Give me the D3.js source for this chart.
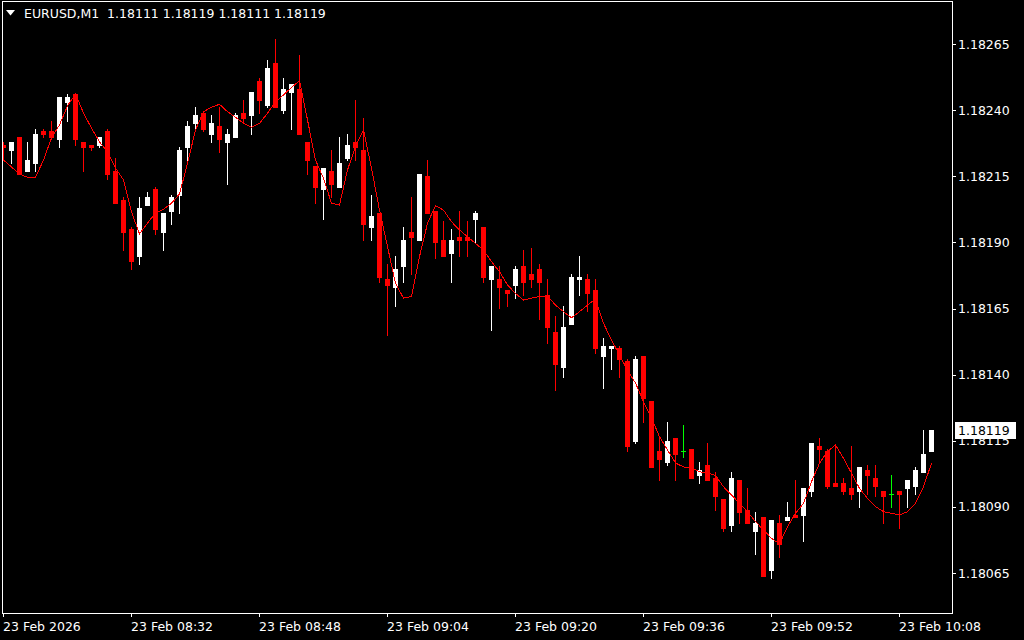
<!DOCTYPE html>
<html>
<head>
<meta charset="utf-8">
<script src="https://cdn.jsdelivr.net/npm/d3@7"></script>
<style>
  body { margin: 0; background: #000; overflow: hidden; }
  svg { display: block; }
  text { font-family: "DejaVu Sans", sans-serif; font-size: 12.5px; fill: #fff; }
</style>
</head>
<body>
<script>
// EURUSD M1, one bar per minute from 08:16 to 10:12
var opens = [1.18227,1.18225,1.18230,1.18217,1.18220,1.18232,1.18232,1.18229,1.18243,1.18246,
  1.18228,1.18227,1.18227,1.18232,1.18217,1.18206,1.18195,1.18185,1.18204,1.18210,
  1.18194,1.18202,1.18208,1.18226,1.18235,1.18239,1.18231,1.18234,1.18228,1.18230,
  1.18239,1.18238,1.18251,1.18242,1.18258,1.18240,1.18247,1.18248,1.18228,1.18219,
  1.18210,1.18217,1.18211,1.18222,1.18228,1.18225,1.18196,1.18201,1.18176,1.18173,
  1.18181,1.18194,1.18191,1.18215,1.18202,1.18191,1.18186,1.18192,1.18192,1.18199,
  1.18196,1.18176,1.18176,1.18172,1.18174,1.18181,1.18178,1.18180,1.18170,1.18156,
  1.18143,1.18159,1.18176,1.18176,1.18172,1.18147,1.18150,1.18150,1.18145,1.18115,
  1.18147,1.18130,1.18111,1.18107,1.18116,1.18111,1.18112,1.18102,1.18106,1.18101,
  1.18093,1.18083,1.18100,1.18089,1.18081,1.18086,1.18066,1.18084,1.18085,1.18087,
  1.18087,1.18096,1.18113,1.18111,1.18099,1.18099,1.18097,1.18096,1.18104,1.18101,
  1.18096,1.18095,1.18096,1.18097,1.18098,1.18103,1.18111];

var highs = [1.18228,1.18228,1.18230,1.18228,1.18233,1.18233,1.18236,1.18245,1.18246,1.18246,
  1.18228,1.18227,1.18230,1.18233,1.18222,1.18207,1.18196,1.18207,1.18209,1.18211,
  1.18201,1.18208,1.18226,1.18236,1.18241,1.18239,1.18238,1.18241,1.18233,1.18239,
  1.18244,1.18247,1.18252,1.18259,1.18267,1.18252,1.18250,1.18261,1.18228,1.18219,
  1.18218,1.18225,1.18230,1.18231,1.18244,1.18237,1.18208,1.18201,1.18182,1.18185,
  1.18196,1.18207,1.18216,1.18221,1.18202,1.18198,1.18195,1.18202,1.18198,1.18202,
  1.18196,1.18181,1.18181,1.18172,1.18181,1.18187,1.18188,1.18182,1.18176,1.18162,
  1.18166,1.18178,1.18185,1.18178,1.18176,1.18154,1.18151,1.18151,1.18146,1.18147,
  1.18147,1.18130,1.18116,1.18122,1.18116,1.18121,1.18112,1.18107,1.18114,1.18103,
  1.18093,1.18103,1.18100,1.18097,1.18088,1.18086,1.18085,1.18087,1.18092,1.18100,
  1.18097,1.18114,1.18116,1.18112,1.18113,1.18101,1.18113,1.18105,1.18106,1.18106,
  1.18096,1.18102,1.18096,1.18100,1.18105,1.18119,1.18119];

var lows = [1.18221,1.18220,1.18216,1.18217,1.18217,1.18230,1.18229,1.18226,1.18236,1.18227,
  1.18217,1.18225,1.18226,1.18214,1.18205,1.18187,1.18180,1.18182,1.18204,1.18193,
  1.18187,1.18197,1.18201,1.18221,1.18233,1.18232,1.18228,1.18224,1.18212,1.18230,
  1.18235,1.18231,1.18239,1.18241,1.18241,1.18239,1.18233,1.18231,1.18216,1.18205,
  1.18199,1.18207,1.18211,1.18221,1.18221,1.18191,1.18191,1.18175,1.18155,1.18166,
  1.18175,1.18178,1.18191,1.18201,1.18184,1.18185,1.18175,1.18185,1.18185,1.18190,
  1.18175,1.18157,1.18165,1.18166,1.18169,1.18170,1.18173,1.18161,1.18152,1.18134,
  1.18139,1.18159,1.18170,1.18164,1.18148,1.18135,1.18142,1.18139,1.18111,1.18114,
  1.18122,1.18105,1.18100,1.18106,1.18100,1.18109,1.18101,1.18099,1.18100,1.18089,
  1.18081,1.18081,1.18084,1.18084,1.18072,1.18064,1.18063,1.18071,1.18085,1.18086,
  1.18077,1.18094,1.18107,1.18097,1.18098,1.18095,1.18093,1.18090,1.18095,1.18094,
  1.18084,1.18090,1.18082,1.18090,1.18095,1.18103,1.18111];

var closes = [1.18226,1.18228,1.18216,1.18221,1.18231,1.18231,1.18230,1.18245,1.18245,1.18229,
  1.18226,1.18226,1.18230,1.18216,1.18205,1.18194,1.18183,1.18203,1.18207,1.18195,
  1.18201,1.18207,1.18225,1.18234,1.18238,1.18233,1.18235,1.18229,1.18231,1.18238,
  1.18237,1.18247,1.18244,1.18256,1.18241,1.18248,1.18250,1.18231,1.18221,1.18211,
  1.18218,1.18212,1.18220,1.18227,1.18226,1.18197,1.18200,1.18177,1.18174,1.18180,
  1.18191,1.18192,1.18216,1.18201,1.18190,1.18185,1.18191,1.18191,1.18191,1.18201,
  1.18177,1.18181,1.18173,1.18171,1.18180,1.18175,1.18176,1.18175,1.18158,1.18144,
  1.18158,1.18177,1.18177,1.18171,1.18150,1.18151,1.18151,1.18146,1.18113,1.18146,
  1.18131,1.18105,1.18108,1.18115,1.18110,1.18111,1.18101,1.18104,1.18100,1.18094,
  1.18082,1.18101,1.18088,1.18084,1.18084,1.18064,1.18085,1.18076,1.18086,1.18086,
  1.18097,1.18114,1.18112,1.18098,1.18098,1.18096,1.18095,1.18105,1.18102,1.18098,
  1.18094,1.18095,1.18095,1.18100,1.18104,1.18110,1.18119];

// red indicator line
var maLine = [1.182211,1.182185,1.182158,1.182146,1.182146,1.182211,1.182295,1.182344,1.182416,1.182461,
  1.182389,1.182332,1.182280,1.182242,1.182181,1.182136,1.182015,1.181932,1.181973,1.182011,
  1.182025,1.182048,1.182083,1.182199,1.182325,1.182394,1.182411,1.182422,1.182394,1.182373,
  1.182350,1.182335,1.182350,1.182388,1.182432,1.182457,1.182486,1.182511,1.182363,1.182211,
  1.182142,1.182048,1.182041,1.182174,1.182262,1.182325,1.182180,1.182022,1.181884,1.181745,
  1.181689,1.181695,1.181846,1.181972,1.182039,1.182022,1.181978,1.181947,1.181921,1.181896,
  1.181871,1.181827,1.181789,1.181739,1.181707,1.181682,1.181689,1.181695,1.181697,1.181663,
  1.181638,1.181615,1.181638,1.181663,1.181686,1.181594,1.181531,1.181474,1.181417,1.181368,
  1.181298,1.181236,1.181165,1.181115,1.181066,1.181051,1.181047,1.181033,1.181028,1.181019,
  1.180976,1.180945,1.180913,1.180882,1.180844,1.180813,1.180781,1.180760,1.180825,1.180876,
  1.180913,1.180995,1.181065,1.181109,1.181134,1.181084,1.181027,1.180970,1.180932,1.180901,
  1.180882,1.180876,1.180869,1.180882,1.180913,1.180976,1.181065];

var priceTicks = [1.18265, 1.18240, 1.18215, 1.18190, 1.18165, 1.18140, 1.18115, 1.18090, 1.18065];
var timeTickIdx = [0, 16, 32, 48, 64, 80, 96, 112];
var timeLabels = ["23 Feb 2026", "23 Feb 08:32", "23 Feb 08:48", "23 Feb 09:04",
  "23 Feb 09:20", "23 Feb 09:36", "23 Feb 09:52", "23 Feb 10:08"];
var symbolTitle = "EURUSD,M1  1.18111 1.18119 1.18111 1.18119";
var lastPrice = 1.18119;

var width = 1024, height = 640;
var plot = { left: 2, top: 1, right: 952, bottom: 613 };

var bull = "#ffffff", bear = "#ff0000", doji = "#00ff00";

var svg = d3.select("body").append("svg")
  .attr("width", width)
  .attr("height", height);

svg.append("rect").attr("width", width).attr("height", height).attr("fill", "#000");

var x = d3.scaleLinear().domain([0, opens.length - 1]).range([3, 3 + 8 * (opens.length - 1)]);
var y = d3.scaleLinear().domain([1.18065, 1.18265]).range([573, 44]);

svg.append("clipPath").attr("id", "clip")
  .append("rect")
  .attr("x", plot.left + 1).attr("y", plot.top + 1)
  .attr("width", plot.right - plot.left - 1).attr("height", plot.bottom - plot.top - 1);

var chart = svg.append("g")
  .attr("clip-path", "url(#clip)")
  .attr("shape-rendering", "crispEdges");

var bars = opens.map(function(o, i) {
  return { i: i, o: o, h: highs[i], l: lows[i], c: closes[i] };
});

function colorOf(d) {
  if (d.c > d.o) return bull;
  if (d.c < d.o) return bear;
  return doji;
}

// wicks
chart.selectAll(".wick")
  .data(bars)
  .enter()
  .append("rect")
  .attr("class", "wick")
  .attr("x", function(d) { return x(d.i); })
  .attr("y", function(d) { return Math.round(y(d.h)); })
  .attr("width", 1)
  .attr("height", function(d) { return Math.round(y(d.l)) - Math.round(y(d.h)) + 1; })
  .attr("fill", colorOf);

// bodies
chart.selectAll(".body")
  .data(bars)
  .enter()
  .append("rect")
  .attr("class", "body")
  .attr("x", function(d) { return x(d.i) - 2; })
  .attr("y", function(d) { return Math.round(y(Math.max(d.o, d.c))); })
  .attr("width", 5)
  .attr("height", function(d) {
    return Math.max(1, Math.round(y(Math.min(d.o, d.c))) - Math.round(y(Math.max(d.o, d.c))) + 1);
  })
  .attr("fill", colorOf);

// indicator
var line = d3.line()
  .x(function(d, i) { return x(i) + 0.5; })
  .y(function(d) { return y(d); });

chart.append("path")
  .datum(maLine)
  .attr("d", line)
  .attr("fill", "none")
  .attr("stroke", "#ff0000")
  .attr("stroke-width", 1);

// frame
svg.append("rect")
  .attr("x", plot.left + 0.5).attr("y", plot.top + 0.5)
  .attr("width", plot.right - plot.left).attr("height", plot.bottom - plot.top)
  .attr("fill", "none")
  .attr("stroke", "#fff")
  .attr("shape-rendering", "crispEdges");

// price axis
var rightAxis = d3.axisRight(y)
  .tickValues(priceTicks)
  .tickSize(4)
  .tickPadding(2)
  .tickFormat(d3.format(".5f"));

var ga = svg.append("g")
  .attr("transform", "translate(" + plot.right + ",0)")
  .attr("shape-rendering", "crispEdges")
  .call(rightAxis);
ga.select(".domain").remove();
ga.selectAll("line").attr("stroke", "#fff");
ga.selectAll("text").attr("fill", "#fff").attr("font-family", "DejaVu Sans").attr("font-size", "12.5px");

// time axis
var bottomAxis = d3.axisBottom(x)
  .tickValues(timeTickIdx)
  .tickSize(4)
  .tickFormat(function(d, i) { return timeLabels[i]; });

var gb = svg.append("g")
  .attr("transform", "translate(0," + plot.bottom + ")")
  .attr("shape-rendering", "crispEdges")
  .call(bottomAxis);
gb.select(".domain").remove();
gb.selectAll("line").attr("stroke", "#fff");
gb.selectAll("text")
  .attr("fill", "#fff")
  .attr("font-family", "DejaVu Sans")
  .attr("font-size", "12.5px")
  .attr("text-anchor", "start")
  .attr("x", -0.5)
  .attr("y", 18)
  .attr("dy", null);

// last price label
var ly = Math.round(y(lastPrice));
svg.append("rect")
  .attr("x", 955).attr("y", ly - 8)
  .attr("width", 61).attr("height", 17)
  .attr("fill", "#fff");
svg.append("text")
  .attr("x", 958).attr("y", ly + 5)
  .style("fill", "#000")
  .text(d3.format(".5f")(lastPrice));

// title
svg.append("path")
  .attr("d", "M6,10 L15,10 L10.5,15.5 Z")
  .attr("fill", "#fff");
svg.append("text")
  .attr("x", 24).attr("y", 18)
  .style("white-space", "pre")
  .text(symbolTitle);
</script>
</body>
</html>
